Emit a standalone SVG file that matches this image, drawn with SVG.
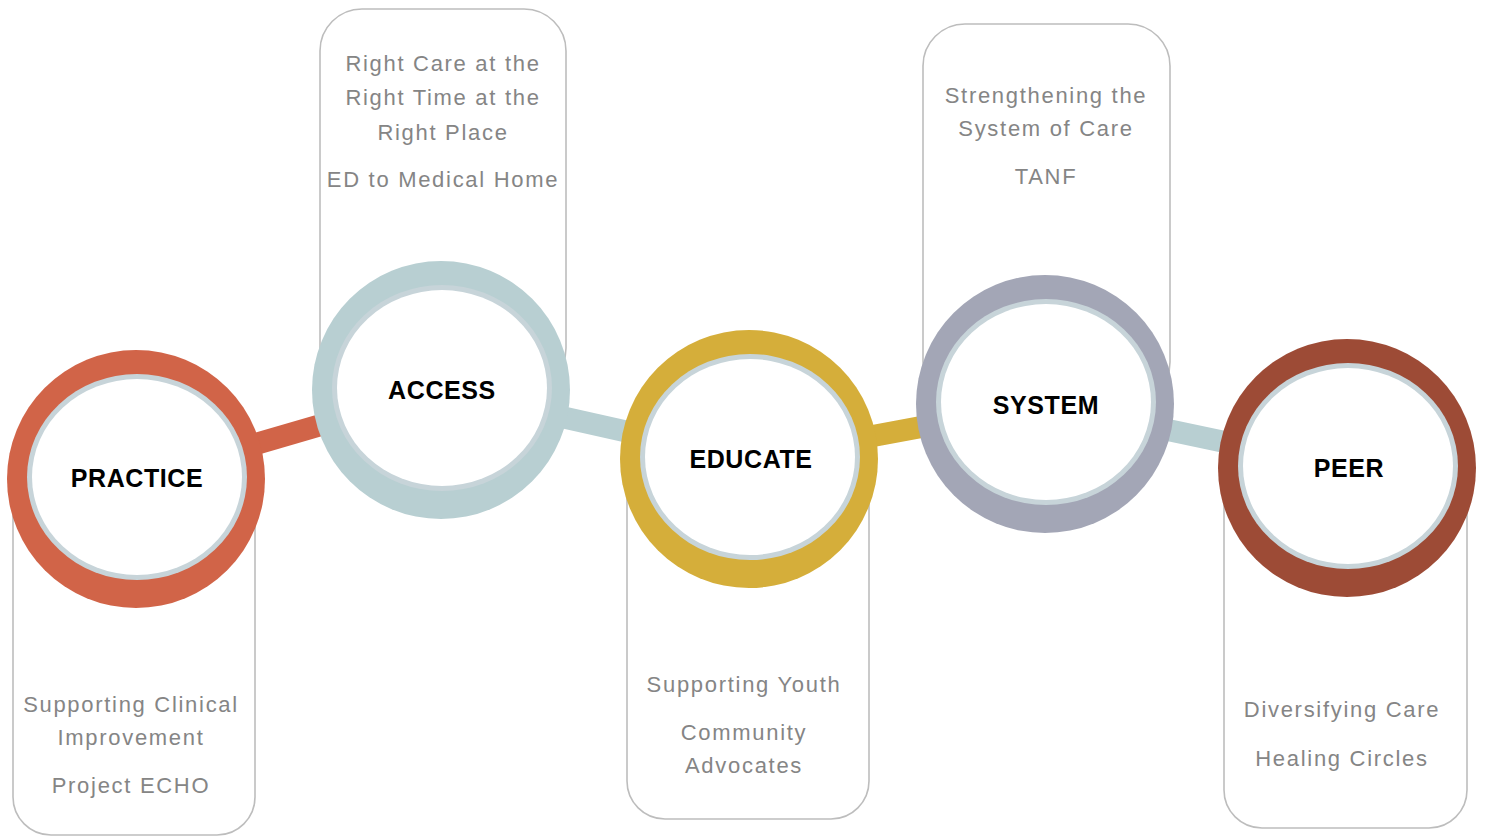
<svg xmlns="http://www.w3.org/2000/svg" width="1485" height="836" viewBox="0 0 1485 836">
<style>
.box{fill:#ffffff;stroke:#bdbdbd;stroke-width:1.6}
.t{font-family:"Liberation Sans",Arial,sans-serif;font-size:22px;fill:#858585;text-anchor:middle;letter-spacing:1.7px}
.lbl{font-family:"Liberation Sans",Arial,sans-serif;font-size:25px;font-weight:bold;fill:#000;text-anchor:middle;letter-spacing:0.6px}
.light{fill:#c7d4d9}
.white{fill:#ffffff}
.conn{stroke-width:22;fill:none}
</style>
<rect width="1485" height="836" fill="#ffffff"/>
<g id="boxes">
<rect class="box" x="13" y="479" width="242" height="356" rx="38"/>
<rect class="box" x="320" y="9" width="246" height="381" rx="42"/>
<rect class="box" x="627" y="459" width="242" height="360" rx="38"/>
<rect class="box" x="923" y="24" width="247" height="380" rx="42"/>
<rect class="box" x="1224" y="468" width="243" height="360" rx="38"/>
</g>
<g id="connectors">
<line class="conn" x1="136" y1="479" x2="441" y2="390" stroke="#d16448"/>
<line class="conn" x1="441" y1="390" x2="749" y2="459" stroke="#b8cfd2"/>
<line class="conn" x1="749" y1="459" x2="1045" y2="404" stroke="#d5ae3a"/>
<line class="conn" x1="1045" y1="404" x2="1347" y2="468" stroke="#b8cfd2"/>
</g>
<g id="practice">
<circle cx="136" cy="479" r="129" fill="#d16448"/>
<ellipse class="light" cx="137" cy="477" rx="110" ry="103"/>
<ellipse class="white" cx="137" cy="477" rx="105" ry="98"/>
<text class="lbl" x="137" y="487">PRACTICE</text>
<text class="t" x="131" y="712">Supporting Clinical</text>
<text class="t" x="131" y="745">Improvement</text>
<text class="t" x="131" y="793">Project ECHO</text>
</g>
<g id="access">
<circle cx="441" cy="390" r="129" fill="#b8cfd2"/>
<ellipse class="light" cx="442" cy="388" rx="110" ry="103"/>
<ellipse class="white" cx="442" cy="388" rx="105" ry="98"/>
<text class="lbl" x="442" y="399">ACCESS</text>
<text class="t" x="443" y="71">Right Care at the</text>
<text class="t" x="443" y="105">Right Time at the</text>
<text class="t" x="443" y="140">Right Place</text>
<text class="t" x="443" y="187">ED to Medical Home</text>
</g>
<g id="educate">
<circle cx="749" cy="459" r="129" fill="#d5ae3a"/>
<ellipse class="light" cx="750" cy="457" rx="110" ry="103"/>
<ellipse class="white" cx="750" cy="457" rx="105" ry="98"/>
<text class="lbl" x="751" y="468">EDUCATE</text>
<text class="t" x="744" y="692">Supporting Youth</text>
<text class="t" x="744" y="740">Community</text>
<text class="t" x="744" y="773">Advocates</text>
</g>
<g id="system">
<circle cx="1045" cy="404" r="129" fill="#a3a6b6"/>
<ellipse class="light" cx="1046" cy="402" rx="110" ry="103"/>
<ellipse class="white" cx="1046" cy="402" rx="105" ry="98"/>
<text class="lbl" x="1046" y="414">SYSTEM</text>
<text class="t" x="1046" y="103">Strengthening the</text>
<text class="t" x="1046" y="136">System of Care</text>
<text class="t" x="1046" y="184">TANF</text>
</g>
<g id="peer">
<circle cx="1347" cy="468" r="129" fill="#9d4b36"/>
<ellipse class="light" cx="1348" cy="466" rx="110" ry="103"/>
<ellipse class="white" cx="1348" cy="466" rx="105" ry="98"/>
<text class="lbl" x="1349" y="477">PEER</text>
<text class="t" x="1342" y="717">Diversifying Care</text>
<text class="t" x="1342" y="766">Healing Circles</text>
</g>
</svg>
